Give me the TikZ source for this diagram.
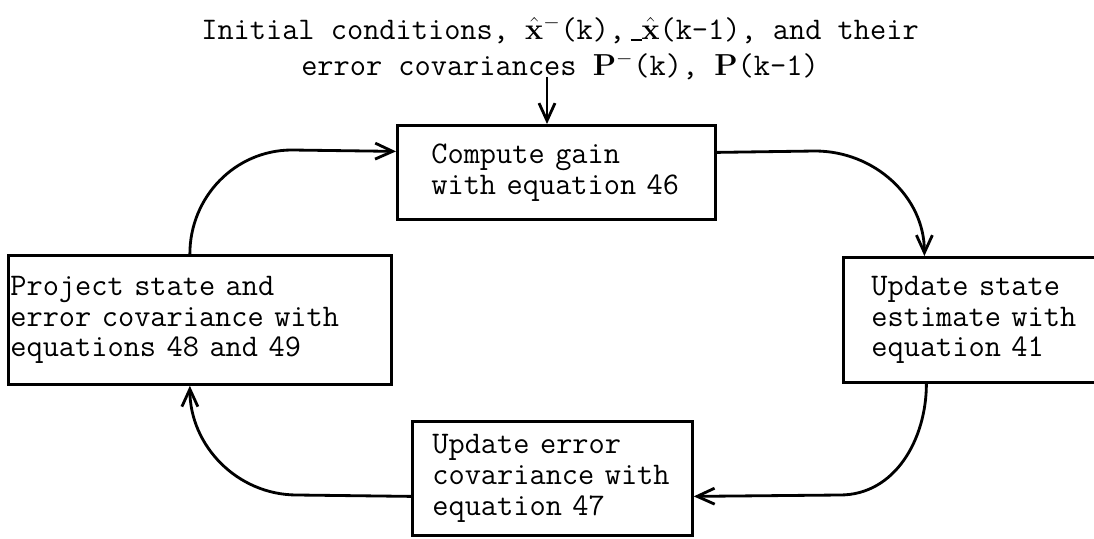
\documentclass[tikz,border=0pt]{standalone}
\usepackage{amsmath,amssymb}
\usepackage{xcolor}
\usepackage{tikz}
\usetikzlibrary{calc}
\usetikzlibrary{arrows.meta}

\newcommand{\typefont}{\fontsize{17.9}{17.6}\selectfont\ttfamily}
\tikzset{
  stagebox/.style={draw,line width=1.6pt,align=left,anchor=north west,inner ysep=0pt,font=\typefont},
  flow/.style={line width=1.6pt,-{Straight Barb[length=3.5mm,width=3.2mm]}}
}

\begin{document}
\begin{tikzpicture}[x=0.02cm,y=0.02cm]
\useasboundingbox (0,0) rectangle (1094,538);

% Initial conditions
\node[align=center,font=\typefont] (title) at (560,490)
  {Initial conditions, $\hat{\mathbf{x}}^{-}$(k), \llap{\rule[-0.1ex]{0.35em}{0.12ex}}$\hat{\mathbf{x}}$(k-1), and their\\[3pt]
   error covariances $\mathbf{P}^{-}$(k), $\mathbf{P}$(k-1)};
\coordinate (feed) at (547,461);

% Filter loop
\node[stagebox,text width=5.0cm,inner xsep=0.68cm,minimum height=1.88cm] (gain) at (396,414)
  {Compute~gain\\with~equation~46};
\node[stagebox,text width=4.24cm,inner xsep=0.56cm,minimum height=2.5cm] (state) at (842,282)
  {Update~state\\estimate~with\\equation~41};
\node[stagebox,text width=4.8cm,inner xsep=0.4cm,minimum height=2.28cm] (error) at (411,118)
  {Update~error\\covariance~with\\equation~47};
\node[stagebox,text width=7.58cm,inner xsep=0.04cm,minimum height=2.58cm] (proj) at (7,284)
  {Project~state~and\\error~covariance~with\\equations~48~and~49};

% Bends
\coordinate (c1) at (292,388);
\coordinate (c2) at (815,387);
\coordinate (c3) at (840,43);
\coordinate (c4) at (297,43);

% Connectors
\draw[flow] (feed) -- (feed |- gain.north);
\draw[flow] ([xshift=-0.2cm]proj.north) to[out=90,in=180] (c1) -- ([yshift=0.42cm]gain.west);
\draw[flow] ([yshift=0.4cm]gain.east) -- (c2) to[out=0,in=90] ([xshift=-1.06cm]state.north);
\draw[flow] ([xshift=-1.02cm]state.south) to[out=-90,in=0] (c3) -- ([yshift=-0.36cm]error.east);
\draw[flow] ([yshift=-0.36cm]error.west) -- (c4) to[out=180,in=-90] ([xshift=-0.2cm]proj.south);
\end{tikzpicture}
\end{document}
